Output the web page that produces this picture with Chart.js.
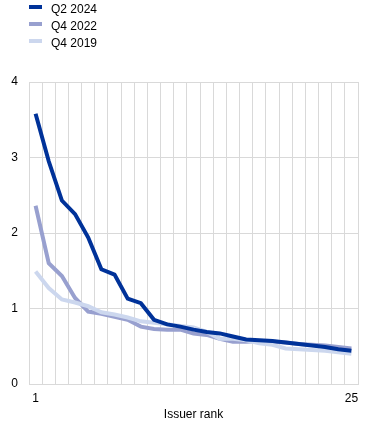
<!DOCTYPE html>
<html>
<head>
<meta charset="utf-8">
<script src="https://cdn.jsdelivr.net/npm/chart.js@4/dist/chart.umd.min.js"></script>
<style>
    html, body { margin: 0; padding: 0; background: #fff; }
    #wrap { position: relative; width: 372px; height: 429px; }
    #legend { position: absolute; left: 29px; top: 1px; font: 12px Arial, "Liberation Sans", sans-serif; color: #000; }
    .leg-row { position: relative; height: 17px; line-height: 17px; padding-left: 22px; white-space: nowrap; }
    .leg-box { position: absolute; left: 0; top: 4px; width: 13px; height: 4px; }
</style>
</head>
<body>
<div id="wrap">
    <canvas id="lineChart" width="372" height="429"></canvas>
    <div id="legend"></div>
</div>
<script>
var ranks = ['1', '2', '3', '4', '5', '6', '7', '8', '9', '10', '11', '12', '13',
    '14', '15', '16', '17', '18', '19', '20', '21', '22', '23', '24', '25'];
var seriesNames = ['Q2 2024', 'Q4 2022', 'Q4 2019'];
var seriesColors = ['#003299', '#98a0cf', '#ccd7ee'];

var q2_2024 = [3.58, 2.95, 2.43, 2.25, 1.94, 1.52, 1.45, 1.13, 1.07, 0.85, 0.79, 0.76, 0.72,
    0.69, 0.67, 0.63, 0.59, 0.58, 0.57, 0.55, 0.53, 0.51, 0.49, 0.46, 0.44];
var q4_2022 = [2.36, 1.60, 1.43, 1.14, 0.96, 0.93, 0.89, 0.85, 0.76, 0.73, 0.72, 0.72, 0.67,
    0.65, 0.60, 0.56, 0.56, 0.57, 0.56, 0.55, 0.53, 0.52, 0.51, 0.49, 0.47];
var q4_2019 = [1.49, 1.27, 1.12, 1.08, 1.03, 0.95, 0.92, 0.88, 0.83, 0.81, 0.79, 0.77, 0.75,
    0.69, 0.60, 0.60, 0.58, 0.54, 0.52, 0.47, 0.46, 0.45, 0.44, 0.42, 0.40];
var yTicks = [0, 1, 2, 3, 4];

Chart.defaults.font.family = 'Arial, "Liberation Sans", sans-serif';
Chart.defaults.font.size = 12;
Chart.defaults.color = '#000';

var gridColor = '#d9d9d9';
var allSeries = [q2_2024, q4_2022, q4_2019];
var drawOrder = [0, 2, 1];

var datasets = allSeries.map(function (values, i) {
    return {
        label: seriesNames[i],
        data: values,
        borderColor: seriesColors[i],
        backgroundColor: seriesColors[i],
        borderWidth: 4,
        pointRadius: 0,
        tension: 0,
        order: drawOrder[i]
    };
});

// legend drawn as plain html so the items stack in a column
var legend = document.getElementById('legend');
seriesNames.forEach(function (name, i) {
    var row = document.createElement('div');
    row.className = 'leg-row';
    var box = document.createElement('span');
    box.className = 'leg-box';
    box.style.background = seriesColors[i];
    row.appendChild(box);
    row.appendChild(document.createTextNode(name));
    legend.appendChild(row);
});

var ctx = document.getElementById('lineChart').getContext('2d');
var chart = new Chart(ctx, {
    type: 'line',
    data: {
        labels: ranks,
        datasets: datasets
    },
    options: {
        responsive: false,
        animation: false,
        layout: {
            padding: { top: 82, right: 14, bottom: 7, left: 0 }
        },
        plugins: {
            legend: { display: false },
            tooltip: { enabled: false }
        },
        scales: {
            x: {
                offset: true,
                grid: { color: gridColor, offset: true, drawTicks: false },
                border: { color: gridColor },
                afterFit: function (scale) {
                    scale.height = 38;
                },
                ticks: {
                    autoSkip: false,
                    maxRotation: 0,
                    padding: 7,
                    callback: function (value, index) {
                        return (index === 0 || index === ranks.length - 1) ? ranks[index] : '';
                    }
                },
                title: {
                    display: true,
                    text: 'Issuer rank',
                    padding: { top: 0, bottom: 0 }
                }
            },
            y: {
                min: yTicks[0],
                max: yTicks[yTicks.length - 1],
                afterBuildTicks: function (scale) {
                    scale.ticks = yTicks.map(function (v) { return { value: v }; });
                },
                afterFit: function (scale) {
                    scale.width = 29;
                },
                grid: { color: gridColor, drawTicks: false },
                border: { color: gridColor },
                ticks: { padding: 11 }
            }
        }
    }
});
</script>
</body>
</html>
